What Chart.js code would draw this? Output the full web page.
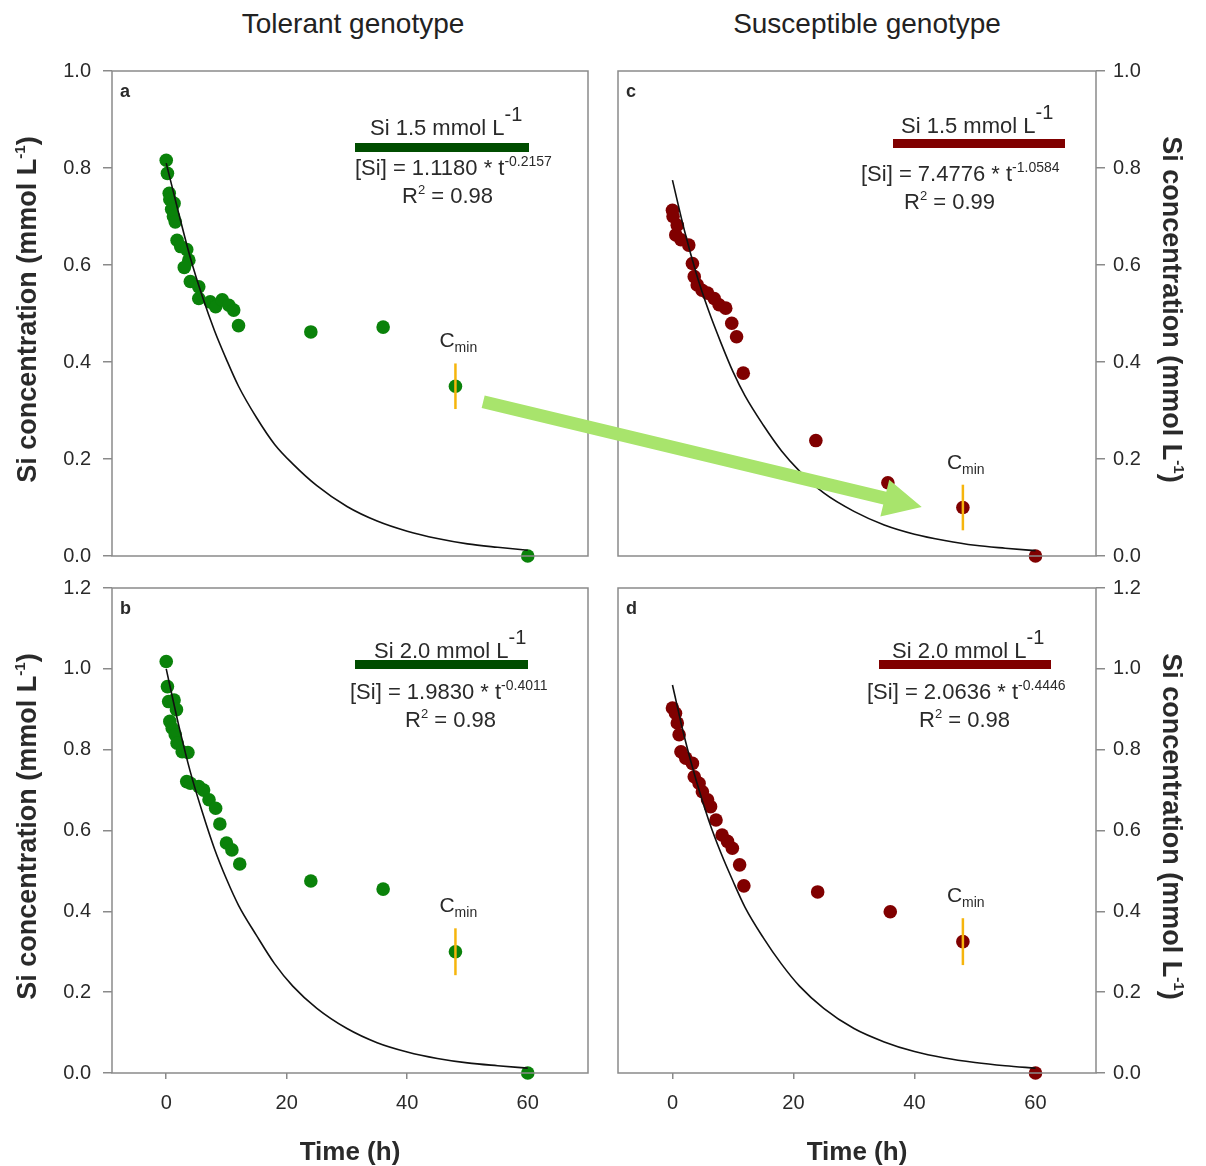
<!DOCTYPE html>
<html>
<head>
<meta charset="utf-8">
<script src="https://cdn.jsdelivr.net/npm/chart.js@4.4.0/dist/chart.umd.min.js"></script>
<style>
  body { margin: 0; background: #fff; }
  #page { position: relative; width: 1206px; height: 1166px; overflow: hidden; }
  canvas { position: absolute; }
  .col-title { position: absolute; top: 8px; font: 28px "Liberation Sans", Arial, sans-serif; color: #222;
               transform: translateX(-50%); white-space: nowrap; }
</style>
</head>
<body>
<div id="page">
  <div class="col-title" style="left:353px">Tolerant genotype</div>
  <div class="col-title" style="left:867px">Susceptible genotype</div>
  <canvas id="pa" width="603" height="516" style="left:0;top:50px"></canvas>
  <canvas id="pc" width="603" height="516" style="left:603px;top:50px"></canvas>
  <canvas id="pb" width="603" height="600" style="left:0;top:566px"></canvas>
  <canvas id="pd" width="603" height="600" style="left:603px;top:566px"></canvas>
  <canvas id="overlay" width="1206" height="1166" style="left:0;top:0;pointer-events:none"></canvas>
</div>
<script>
// --- data ---
const xTickValues = [0, 20, 40, 60];
const yTicksTop = [0, 0.2, 0.4, 0.6, 0.8, 1.0];
const yTicksBottom = [0, 0.2, 0.4, 0.6, 0.8, 1.0, 1.2];

// a: tolerant, Si 1.5
const timeA = [0, 0.2, 0.5, 0.6, 1.3, 0.9, 1.2, 1.5, 1.8, 2.4, 3.4, 3.75, 3, 4, 5.4, 5.4, 7.3, 8.2, 9.3, 10.4, 11.2, 12, 24, 36, 60];
const concA = [0.816, 0.789, 0.748, 0.735, 0.727, 0.715, 0.70, 0.689, 0.651, 0.638, 0.632, 0.61, 0.595, 0.566, 0.555, 0.531, 0.524, 0.514, 0.528, 0.517, 0.507, 0.475, 0.462, 0.472, 0.0];
// b: tolerant, Si 2.0
const timeB = [0, 0.2, 0.4, 1.3, 1.7, 0.6, 1.0, 1.5, 1.8, 2.65, 3.6, 3.4, 4.0, 5.4, 6.2, 7.1, 8.2, 8.9, 10.0, 10.9, 12.2, 24, 36, 60];
const concB = [1.018, 0.956, 0.919, 0.923, 0.899, 0.87, 0.853, 0.837, 0.816, 0.795, 0.793, 0.721, 0.717, 0.709, 0.70, 0.676, 0.655, 0.616, 0.569, 0.552, 0.517, 0.475, 0.455, 0.0];
// c: susceptible, Si 1.5
const timeC = [0, 0.1, 0.8, 0.55, 1.4, 2.7, 3.3, 3.6, 4.1, 4.9, 5.8, 6.9, 7.7, 8.8, 9.8, 10.6, 11.7, 23.7, 35.6, 60];
const concC = [0.713, 0.70, 0.682, 0.662, 0.652, 0.641, 0.603, 0.576, 0.559, 0.548, 0.542, 0.531, 0.518, 0.511, 0.48, 0.452, 0.377, 0.238, 0.151, 0.0];
// d: susceptible, Si 2.0
const timeD = [0, 0.5, 0.8, 1.1, 1.4, 2.2, 3.3, 3.6, 4.4, 4.95, 5.8, 6.3, 7.2, 8.2, 9.1, 9.9, 11.1, 11.8, 24, 36, 60];
const concD = [0.903, 0.89, 0.866, 0.837, 0.795, 0.779, 0.766, 0.733, 0.717, 0.696, 0.676, 0.659, 0.626, 0.589, 0.573, 0.556, 0.515, 0.463, 0.448, 0.399, 0.0];

// fitted curves, read at these times
const fitTime = [0, 2, 4, 6, 8, 10, 12, 15, 18, 21, 25, 30, 35, 40, 45, 50, 55, 60];
const fitA = [0.81, 0.71, 0.615, 0.535, 0.465, 0.405, 0.35, 0.285, 0.23, 0.19, 0.145, 0.102, 0.072, 0.051, 0.036, 0.025, 0.018, 0.012];
const fitB = [1.0, 0.865, 0.745, 0.645, 0.555, 0.48, 0.415, 0.34, 0.27, 0.215, 0.16, 0.11, 0.075, 0.052, 0.036, 0.025, 0.018, 0.012];
const fitC = [0.775, 0.67, 0.58, 0.505, 0.44, 0.38, 0.33, 0.27, 0.217, 0.175, 0.13, 0.092, 0.064, 0.045, 0.032, 0.022, 0.016, 0.011];
const fitD = [0.96, 0.83, 0.72, 0.625, 0.545, 0.475, 0.41, 0.335, 0.27, 0.215, 0.16, 0.11, 0.077, 0.053, 0.037, 0.026, 0.018, 0.012];

// Cmin points: time, value, error half-length  (order a, b, c, d)
const cminTime = [48, 48, 48, 48];
const cminValue = [0.35, 0.30, 0.10, 0.325];
const cminErr = [0.047, 0.058, 0.047, 0.058];

const doseLabels = ['Si 1.5 mmol L', 'Si 2.0 mmol L', 'Si 1.5 mmol L', 'Si 2.0 mmol L'];
const eqCoef = ['1.1180', '1.9830', '7.4776', '2.0636'];
const eqExp = ['-0.2157', '-0.4011', '-1.0584', '-0.4446'];
const rSquared = ['0.98', '0.98', '0.99', '0.98'];

// arrow from panel a to panel c, in data units
const arrowFrom = { t: 52.6, v: 0.318 };
const arrowTo = { t: 41.2, v: 0.101 };

const FONT = '"Liberation Sans", Arial, sans-serif';
const GREY = '#8a8a8a';
const TEXT = '#2a2a2a';
const GREEN = '#0a820a';
const GREEN_BAR = '#004d00';
const RED = '#800000';
const RED_BAR = '#800000';
const ORANGE = '#f6b50c';

function drawParts(ctx, x, y, parts) {
    let cx = x;
    parts.forEach(p => {
        ctx.font = (p.bold ? 'bold ' : '') + p.size + 'px ' + FONT;
        ctx.fillText(p.t, cx, y + (p.dy || 0));
        cx += ctx.measureText(p.t).width;
    });
    return cx;
}

function partsWidth(ctx, parts) {
    let w = 0;
    parts.forEach(p => {
        ctx.font = (p.bold ? 'bold ' : '') + p.size + 'px ' + FONT;
        w += ctx.measureText(p.t).width;
    });
    return w;
}

const axisTitleParts = [
    { t: 'Si concentration (mmol L', size: 27, bold: true },
    { t: '-1', size: 15, bold: true, dy: -11 },
    { t: ')', size: 27, bold: true }
];

const decor = {
    id: 'decor',
    afterDraw(chart) {
        const o = chart.options.plugins.decor;
        const { ctx, chartArea: ca } = chart;
        const xs = chart.scales.x, ys = chart.scales.y;
        ctx.save();
        // frame
        ctx.strokeStyle = GREY;
        ctx.lineWidth = 1.5;
        ctx.strokeRect(ca.left, ca.top, ca.right - ca.left, ca.bottom - ca.top);

        ctx.fillStyle = TEXT;
        ctx.textBaseline = 'alphabetic';
        ctx.textAlign = 'left';
        // panel letter
        ctx.font = 'bold 18px ' + FONT;
        ctx.fillText(o.letter, ca.left + 8, ca.top + 26);

        // dose / equation block
        const L = o.layout, i = o.idx;
        const endX = drawParts(ctx, ca.right + L.titleX, ca.top + L.titleY, [{ t: doseLabels[i], size: 22 }]);
        drawParts(ctx, endX, ca.top + L.titleY - 14, [{ t: '-1', size: 20 }]);
        ctx.fillStyle = o.barColor;
        ctx.fillRect(ca.right + L.barX0, ca.top + L.barY, L.barX1 - L.barX0, 9);
        ctx.fillStyle = TEXT;
        drawParts(ctx, ca.right + L.eqX, ca.top + L.eqY, [
            { t: '[Si] = ' + eqCoef[i] + ' * t', size: 22 },
            { t: eqExp[i], size: 14, dy: -9 }
        ]);
        drawParts(ctx, ca.right + L.r2X, ca.top + L.r2Y, [
            { t: 'R', size: 22 }, { t: '2', size: 13, dy: -9 }, { t: ' = ' + rSquared[i], size: 22 }
        ]);

        // Cmin label
        const px = xs.getPixelForValue(cminTime[i]);
        const py = ys.getPixelForValue(cminValue[i] + cminErr[i]);
        drawParts(ctx, px - 16, py - 16, [{ t: 'C', size: 21 }, { t: 'min', size: 14, dy: 5 }]);

        // y axis title
        const midY = (ca.top + ca.bottom) / 2 - 4;
        const w = partsWidth(ctx, axisTitleParts);
        ctx.save();
        if (o.side === 'left') {
            ctx.translate(ca.left - 76, midY);
            ctx.rotate(-Math.PI / 2);
        } else {
            ctx.translate(ca.right + 67, midY);
            ctx.rotate(Math.PI / 2);
        }
        drawParts(ctx, -w / 2, 0, axisTitleParts);
        ctx.restore();

        // x axis title
        if (o.showX) {
            ctx.font = 'bold 26px ' + FONT;
            ctx.textAlign = 'center';
            ctx.fillText('Time (h)', (ca.left + ca.right) / 2, ca.bottom + 87);
        }
        ctx.restore();
    }
};

function makePanel(id, cfg) {
    const showX = cfg.showX;
    const yTicks = cfg.yTicks;
    const yMax = yTicks[yTicks.length - 1];
    return new Chart(document.getElementById(id), {
        type: 'scatter',
        data: {
            datasets: [
                {
                    data: [{ x: cminTime[cfg.idx], y: cminValue[cfg.idx] - cminErr[cfg.idx] },
                           { x: cminTime[cfg.idx], y: cminValue[cfg.idx] + cminErr[cfg.idx] }],
                    showLine: true, borderColor: ORANGE, borderWidth: 2.5, pointRadius: 0
                },
                {
                    data: cfg.fit.map((v, k) => ({ x: fitTime[k], y: v })),
                    showLine: true, borderColor: '#111', borderWidth: 1.6, pointRadius: 0,
                    cubicInterpolationMode: 'monotone'
                },
                {
                    data: cfg.time.map((t, k) => ({ x: t, y: cfg.conc[k] }))
                        .concat([{ x: cminTime[cfg.idx], y: cminValue[cfg.idx] }]),
                    pointRadius: 6.8, pointBackgroundColor: cfg.color, pointBorderWidth: 0,
                    clip: false
                }
            ]
        },
        options: {
            responsive: false,
            animation: false,
            events: [],
            layout: { padding: cfg.padding },
            plugins: {
                legend: { display: false },
                tooltip: { enabled: false },
                decor: {
                    idx: cfg.idx, letter: cfg.letter, side: cfg.side, showX: showX,
                    barColor: cfg.barColor, layout: cfg.layout
                }
            },
            scales: {
                x: {
                    type: 'linear', min: -9, max: 70, position: 'bottom',
                    afterBuildTicks: s => { s.ticks = xTickValues.map(v => ({ value: v })); },
                    afterFit: s => { s.height = cfg.xH; s.paddingLeft = 0; s.paddingRight = 0; },
                    ticks: { display: showX, color: TEXT, font: { family: FONT, size: 20 }, padding: 12 },
                    grid: { display: showX, drawOnChartArea: false, tickLength: 6, color: GREY, lineWidth: 1.5 },
                    border: { display: false }
                },
                y: {
                    type: 'linear', min: 0, max: yMax, position: cfg.side,
                    afterBuildTicks: s => { s.ticks = yTicks.map(v => ({ value: v })); },
                    afterFit: s => { s.width = cfg.yW; s.paddingTop = 0; s.paddingBottom = 0; },
                    ticks: {
                        color: TEXT, font: { family: FONT, size: 20 },
                        padding: cfg.side === 'left' ? 12 : 8,
                        callback: v => v.toFixed(1)
                    },
                    grid: { drawOnChartArea: false, tickLength: 9, color: GREY, lineWidth: 1.5 },
                    border: { display: false }
                }
            }
        },
        plugins: [decor]
    });
}

const chartA = makePanel('pa', {
    idx: 0, letter: 'a', side: 'left', showX: false, yTicks: yTicksTop,
    time: timeA, conc: concA, fit: fitA, color: GREEN, barColor: GREEN_BAR,
    padding: { top: 21, right: 15, left: 0, bottom: 0 }, yW: 112, xH: 10,
    layout: { titleX: -218, titleY: 64, barX0: -233, barX1: -59, barY: 72, eqX: -233, eqY: 104, r2X: -186, r2Y: 132 }
});
const chartB = makePanel('pb', {
    idx: 1, letter: 'b', side: 'left', showX: true, yTicks: yTicksBottom,
    time: timeB, conc: concB, fit: fitB, color: GREEN, barColor: GREEN_BAR,
    padding: { top: 22, right: 15, left: 0, bottom: 0 }, yW: 112, xH: 93,
    layout: { titleX: -214, titleY: 70, barX0: -233, barX1: -60, barY: 72, eqX: -238, eqY: 111, r2X: -183, r2Y: 139 }
});
const chartC = makePanel('pc', {
    idx: 2, letter: 'c', side: 'right', showX: false, yTicks: yTicksTop,
    time: timeC, conc: concC, fit: fitC, color: RED, barColor: RED_BAR,
    padding: { top: 21, right: 0, left: 15, bottom: 0 }, yW: 110, xH: 10,
    layout: { titleX: -195, titleY: 62, barX0: -203, barX1: -31, barY: 68, eqX: -235, eqY: 110, r2X: -192, r2Y: 138 }
});
const chartD = makePanel('pd', {
    idx: 3, letter: 'd', side: 'right', showX: true, yTicks: yTicksBottom,
    time: timeD, conc: concD, fit: fitD, color: RED, barColor: RED_BAR,
    padding: { top: 22, right: 0, left: 15, bottom: 0 }, yW: 110, xH: 93,
    layout: { titleX: -204, titleY: 70, barX0: -217, barX1: -45, barY: 72, eqX: -229, eqY: 111, r2X: -177, r2Y: 139 }
});

// big green arrow linking the Cmin of a to the Cmin of c
(function drawArrow() {
    const ctx = document.getElementById('overlay').getContext('2d');
    const x0 = chartA.scales.x.getPixelForValue(arrowFrom.t) + 0;
    const y0 = chartA.scales.y.getPixelForValue(arrowFrom.v) + 50;
    const x1 = chartC.scales.x.getPixelForValue(arrowTo.t) + 603;
    const y1 = chartC.scales.y.getPixelForValue(arrowTo.v) + 50;
    const ang = Math.atan2(y1 - y0, x1 - x0);
    const len = Math.hypot(x1 - x0, y1 - y0);
    const headL = 38, headW = 19, shaftW = 6.5;
    ctx.save();
    ctx.translate(x0, y0);
    ctx.rotate(ang);
    ctx.fillStyle = '#a8e46c';
    ctx.beginPath();
    ctx.moveTo(0, -shaftW);
    ctx.lineTo(len - headL, -shaftW);
    ctx.lineTo(len - headL, -headW);
    ctx.lineTo(len, 0);
    ctx.lineTo(len - headL, headW);
    ctx.lineTo(len - headL, shaftW);
    ctx.lineTo(0, shaftW);
    ctx.closePath();
    ctx.fill();
    ctx.restore();
})();
</script>
</body>
</html>
